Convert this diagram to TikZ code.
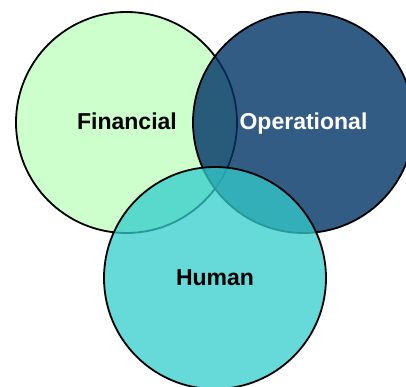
\documentclass[tikz,border=0pt]{standalone}
\usepackage{fontspec}
\setmainfont{Liberation Sans}
\definecolor{finc}{HTML}{CCFFCC}
\definecolor{opc}{HTML}{003366}
\definecolor{humc}{HTML}{33CCCC}
\tikzset{
  venn/.style={circle, draw=black, line width=1.8bp, minimum size=221bp, inner sep=0pt},
  lbl/.style={font=\fontsize{23bp}{27bp}\selectfont\bfseries, inner sep=0pt, anchor=base}
}
\begin{document}
\begin{tikzpicture}[x=1bp,y=-1bp]
\useasboundingbox (0,0) rectangle (406,387);
\clip (0,0) rectangle (406,387);
\node[venn, fill=finc] (fin) at (126.5,122.5) {};
\node[venn, fill=opc, fill opacity=0.8] (op) at (303.5,122.5) {};
\node[venn, fill=humc, fill opacity=0.75, minimum size=222bp] (hum) at (215,278) {};
\node[lbl, text=black] (finl) at (127,129.5) {Financial};
\node[lbl, text=white] (opl) at (303.5,129.5) {Operational};
\node[lbl, text=black] (huml) at (215,285) {Human};
\end{tikzpicture}
\end{document}
